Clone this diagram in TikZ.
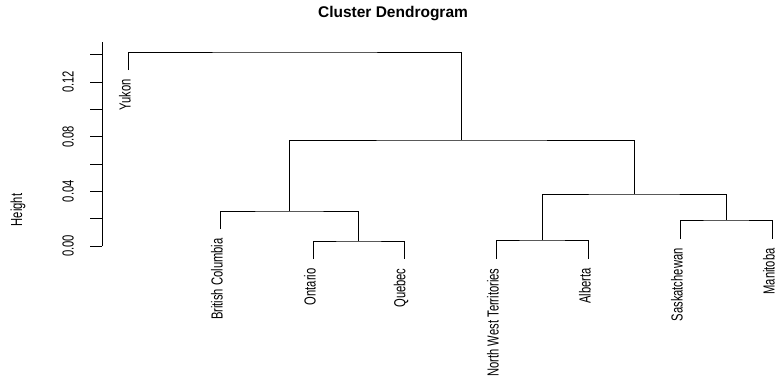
\documentclass[tikz,border=0pt]{standalone}
\usepackage{fontspec}
\setmainfont{Liberation Sans}
\newcommand{\cond}[1]{\scalebox{0.7}[1]{#1}}
\begin{document}
\begin{tikzpicture}[x=1pt,y=-1pt,line width=0.8pt,
  leaflab/.style={rotate=90,anchor=east,inner sep=0pt,font=\fontsize{16}{16}\selectfont},
  ticklab/.style={rotate=90,anchor=center,inner sep=0pt,font=\fontsize{16}{16}\selectfont},
  branch/.style={draw=black,line width=0.8pt}]
\useasboundingbox (0,0) rectangle (777,383);
% title and axis label
\node[font=\fontsize{15.5}{16}\selectfont\bfseries] (title) at (393,14) {Cluster Dendrogram};
\node[ticklab] (ylab) at (18,210) {\cond{Height}};
% axis
\coordinate (axbot) at (102,246);
\coordinate (axtop) at (102,42);
\draw[branch] (axbot) -- (axtop);
\foreach \k in {0,...,7} {
  \draw[branch] (90,{246-27.33*\k}) -- (102,{246-27.33*\k});
}
\node[ticklab] (t0) at (68,246) {\cond{0.00}};
\node[ticklab] (t4) at (68,191.3) {\cond{0.04}};
\node[ticklab] (t8) at (68,136.7) {\cond{0.08}};
\node[ticklab] (t12) at (68,82) {\cond{0.12}};
% leaves (bottom ends)
\coordinate (yuk) at (128,70);
\coordinate (bc)  at (220,229);
\coordinate (ont) at (313,259);
\coordinate (que) at (404,259);
\coordinate (nwt) at (496,259);
\coordinate (alb) at (588,259);
\coordinate (sas) at (680,239);
\coordinate (man) at (772,239);
% merge points
\coordinate (n1) at (358.5,241);
\coordinate (n2) at (289.25,211);
\coordinate (n3) at (542,240);
\coordinate (n4) at (726,220);
\coordinate (n5) at (634,194);
\coordinate (n6) at (461.6,140);
\coordinate (root) at (294.8,52);
% branches
\draw[branch] (ont) |- (n1) -| (que);
\draw[branch] (bc) |- (n2) -| (n1);
\draw[branch] (nwt) |- (n3) -| (alb);
\draw[branch] (sas) |- (n4) -| (man);
\draw[branch] (n3) |- (n5) -| (n4);
\draw[branch] (n2) |- (n6) -| (n5);
\draw[branch] (yuk) |- (root) -| (n6);
% leaf labels
\node[leaflab] (lyuk) at ([xshift=-3pt,yshift=-9pt]yuk) {\cond{Yukon}};
\node[leaflab] (lbc)  at ([xshift=-3pt,yshift=-9pt]bc)  {\cond{British Columbia}};
\node[leaflab] (lont) at ([xshift=-3pt,yshift=-9pt]ont) {\cond{Ontario}};
\node[leaflab] (lque) at ([xshift=-3pt,yshift=-9pt]que) {\cond{Quebec}};
\node[leaflab] (lnwt) at ([xshift=-3pt,yshift=-9pt]nwt) {\cond{North West Territories}};
\node[leaflab] (lalb) at ([xshift=-3pt,yshift=-9pt]alb) {\cond{Alberta}};
\node[leaflab] (lsas) at ([xshift=-3pt,yshift=-9pt]sas) {\cond{Saskatchewan}};
\node[leaflab] (lman) at ([xshift=-3pt,yshift=-9pt]man) {\cond{Manitoba}};
\end{tikzpicture}
\end{document}
